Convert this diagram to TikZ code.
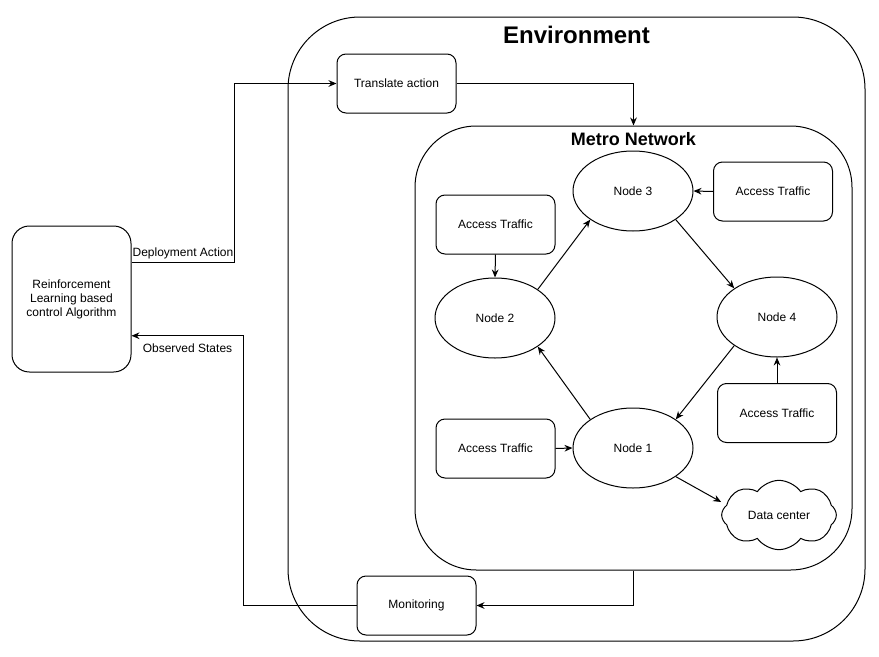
\documentclass[tikz,border=0pt]{standalone}
\usepackage{fontspec}
\setmainfont{Liberation Sans}
\usetikzlibrary{positioning, calc, arrows.meta, shapes.geometric, shapes.symbols}

\begin{document}
\begin{tikzpicture}[x=0.75pt, y=-0.75pt, >={Stealth[length=6pt, width=5pt]},
    every node/.style={font=\fontsize{9}{10.5}\selectfont},
    box/.style={draw, line width=0.75pt, rounded corners=6.75pt, minimum width=89.25pt, minimum height=44.25pt, inner sep=2pt},
    netnode/.style={draw, line width=0.75pt, ellipse, minimum width=90pt, minimum height=60pt, inner sep=1pt},
    link/.style={->, line width=0.75pt}]
    % Page
    \useasboundingbox (0,0) rectangle (879,657);

    % Containers
    \node[draw, line width=0.75pt, rounded corners=54pt, minimum width=432.75pt, minimum height=468pt] (env) at (576.5,329) {};
    \node[font=\fontsize{18}{20}\selectfont\bfseries] (envtitle) at (576.5,35) {Environment};
    \node[draw, line width=0.75pt, rounded corners=46pt, minimum width=327.75pt, minimum height=333pt] (metro) at (633.5,348) {};
    \node[font=\fontsize{13.5}{15}\selectfont\bfseries] (metrotitle) at (633.5,139) {Metro Network};

    % Agent, translation and monitoring
    \node[box, rounded corners=13pt, minimum height=109.5pt, align=center] (rl) at (71.5,299) {Reinforcement\\Learning based\\control Algorithm};
    \node[box] (translate) at (396.5,83.5) {Translate action};
    \node[box] (monitor) at (416.5,605.5) {Monitoring};

    % Metro nodes
    \node[netnode] (n1) at (633,448) {Node 1};
    \node[netnode] (n2) at (495,318) {Node 2};
    \node[netnode] (n3) at (633,191) {Node 3};
    \node[netnode] (n4) at (777,317) {Node 4};
    \node[draw, line width=0.75pt, cloud, cloud puffs=8, cloud puff arc=110, cloud ignores aspect, minimum width=86pt, minimum height=52pt, inner sep=1pt] (dc) at (779,515) {Data center};

    % Access traffic
    \node[box] (acc2) at (495.5,224.5) {Access Traffic};
    \node[box] (acc1) at (495.5,448.5) {Access Traffic};
    \node[box] (acc3) at (773,191.5) {Access Traffic};
    \node[box] (acc4) at (777,413) {Access Traffic};

    % Control loop
    \draw[link] ($(rl.north east)!0.25!(rl.south east)$) -- ++(103,0) node[midway, above, inner sep=2pt] {Deployment Action} |- (translate.west);
    \draw[link] (translate.east) -| (metro.north);
    \draw[link] (metro.south) |- (monitor.east);
    \draw[link] (monitor.west) -- ++(-113,0) |- ($(rl.north east)!0.75!(rl.south east)$) node[pos=0.75, below, inner sep=6pt] {Observed States};

    % Ring
    \draw[link] (n2.north east) -- (n3.south west);
    \draw[link] (n3.south east) -- (n4.north west);
    \draw[link] (n4.south west) -- (n1.north east);
    \draw[link] (n1.north west) -- (n2.south east);
    \draw[link] (n1.south east) -- ($(dc.west)+(0,-13)$);

    % Traffic into nodes
    \draw[link] (acc2.south) -- (n2.north);
    \draw[link] (acc1.east) -- (n1.west);
    \draw[link] (acc3.west) -- (n3.east);
    \draw[link] (acc4.north) -- (n4.south);
\end{tikzpicture}
\end{document}
